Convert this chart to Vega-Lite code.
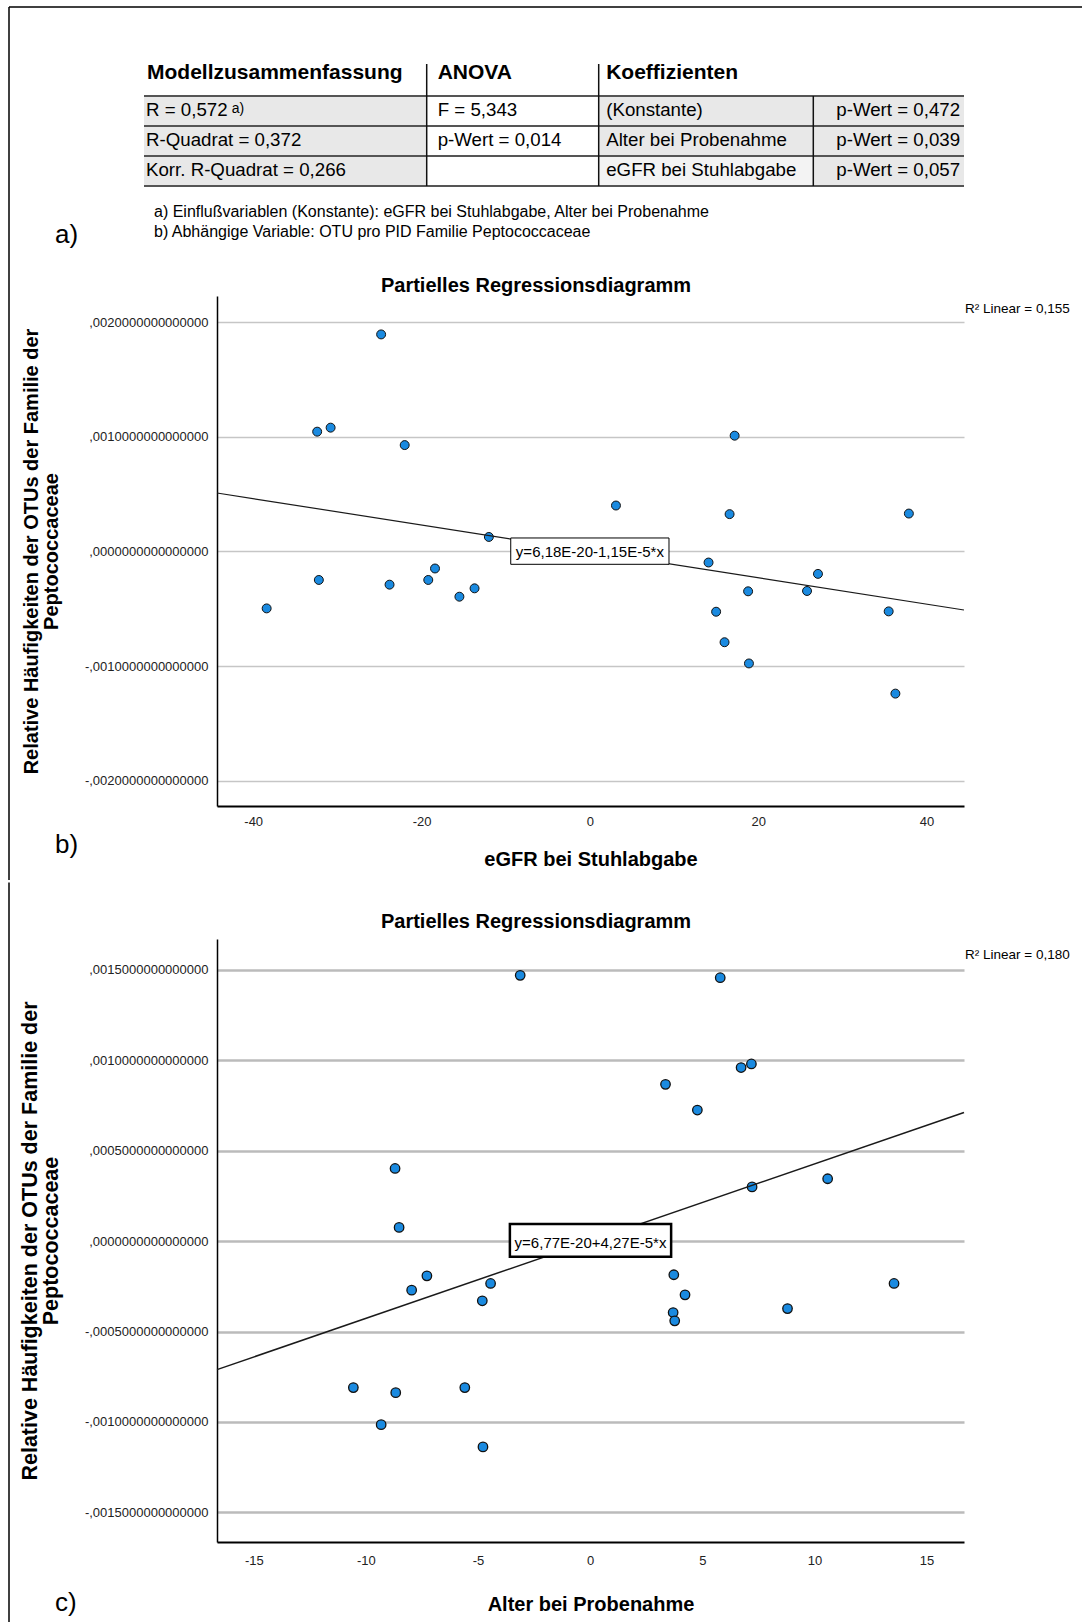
{
  "$schema": "https://vega.github.io/schema/vega-lite/v6.json",
  "background": "white",
  "padding": {"left": 8, "top": 6, "right": 0, "bottom": 0},
  "spacing": 0,
  "config": {
    "font": "Liberation Sans",
    "view": {"stroke": null},
    "axis": {"labelFont": "Liberation Sans", "titleFont": "Liberation Sans"},
    "title": {"font": "Liberation Sans"},
    "text": {"font": "Liberation Sans"}
  },
  "datasets": {
    "punkteB": [
      {"egfr": -24.8, "wert": 0.001892},
      {"egfr": -32.4, "wert": 0.001044},
      {"egfr": -30.8, "wert": 0.001079},
      {"egfr": -22.0, "wert": 0.000927},
      {"egfr": 17.2, "wert": 0.001009},
      {"egfr": 3.1, "wert": 0.0004},
      {"egfr": 16.6, "wert": 0.000325},
      {"egfr": 37.9, "wert": 0.00033},
      {"egfr": -12.0, "wert": 0.000126},
      {"egfr": -38.4, "wert": -0.000497},
      {"egfr": -32.2, "wert": -0.000249},
      {"egfr": -23.8, "wert": -0.00029},
      {"egfr": -19.2, "wert": -0.000249},
      {"egfr": -18.4, "wert": -0.000149},
      {"egfr": -15.5, "wert": -0.000395},
      {"egfr": -13.7, "wert": -0.000322},
      {"egfr": 14.1, "wert": -0.000097},
      {"egfr": 15.0, "wert": -0.000526},
      {"egfr": 16.0, "wert": -0.000792},
      {"egfr": 18.8, "wert": -0.000348},
      {"egfr": 18.9, "wert": -0.000977},
      {"egfr": 25.8, "wert": -0.000345},
      {"egfr": 27.1, "wert": -0.000196},
      {"egfr": 35.5, "wert": -0.000523},
      {"egfr": 36.3, "wert": -0.00124}
    ],
    "linieB": [
      {"egfr": -44.3, "wert": 0.00050945},
      {"egfr": 44.45, "wert": -0.00051118}
    ],
    "textB": [
      {"titel": "Partielles Regressionsdiagramm", "gleichung": "y=6,18E-20-1,15E-5*x", "r2": "R² Linear = 0,155", "marke": "b)"}
    ],
    "punkteC": [
      {"alter": -3.12, "wert": 0.00147},
      {"alter": 5.8, "wert": 0.001457},
      {"alter": 6.73, "wert": 0.00096},
      {"alter": 7.19, "wert": 0.00098},
      {"alter": 3.36, "wert": 0.000867},
      {"alter": 4.78, "wert": 0.000725},
      {"alter": -8.7, "wert": 0.000402},
      {"alter": 7.22, "wert": 0.0003},
      {"alter": 10.59, "wert": 0.000345},
      {"alter": -8.52, "wert": 0.000076},
      {"alter": -7.28, "wert": -0.000192},
      {"alter": -7.96, "wert": -0.000271},
      {"alter": -4.44, "wert": -0.000234},
      {"alter": -4.81, "wert": -0.00033},
      {"alter": 3.73, "wert": -0.000186},
      {"alter": 4.23, "wert": -0.000297},
      {"alter": 3.7, "wert": -0.000395},
      {"alter": 3.77, "wert": -0.000441},
      {"alter": 8.8, "wert": -0.000373},
      {"alter": 13.55, "wert": -0.000234},
      {"alter": -10.56, "wert": -0.00081},
      {"alter": -8.67, "wert": -0.000838},
      {"alter": -5.59, "wert": -0.00081},
      {"alter": -9.32, "wert": -0.001015},
      {"alter": -4.78, "wert": -0.001138}
    ],
    "linieC": [
      {"alter": -16.64, "wert": -0.00071053},
      {"alter": 16.67, "wert": 0.00071181}
    ],
    "textC": [
      {"titel": "Partielles Regressionsdiagramm", "gleichung": "y=6,77E-20+4,27E-5*x", "r2": "R² Linear = 0,180", "marke": "c)"}
    ],
    "zellen": [
      {"row": 1, "row2": 2, "col": 0, "col2": 1, "ton": "grau"},
      {"row": 1, "row2": 2, "col": 2, "col2": 3, "ton": "grau"},
      {"row": 1, "row2": 2, "col": 3, "col2": 4, "ton": "grau"},
      {"row": 2, "row2": 3, "col": 0, "col2": 1, "ton": "grau"},
      {"row": 2, "row2": 3, "col": 2, "col2": 3, "ton": "grau"},
      {"row": 2, "row2": 3, "col": 3, "col2": 4, "ton": "grau"},
      {"row": 3, "row2": 4, "col": 0, "col2": 1, "ton": "grau"},
      {"row": 3, "row2": 4, "col": 2, "col2": 3, "ton": "hell"},
      {"row": 3, "row2": 4, "col": 3, "col2": 4, "ton": "grau"}
    ],
    "linien": [
      {"art": "rahmen", "col": -2, "col2": -2, "row": -1, "row2": 8},
      {"art": "rahmen", "col": -2, "col2": 5, "row": -1, "row2": -1},
      {"art": "quer", "col": 0, "col2": 4, "row": 1, "row2": 1},
      {"art": "quer", "col": 0, "col2": 4, "row": 2, "row2": 2},
      {"art": "quer", "col": 0, "col2": 4, "row": 3, "row2": 3},
      {"art": "quer", "col": 0, "col2": 4, "row": 4, "row2": 4},
      {"art": "senkrecht", "col": 1, "col2": 1, "row": 0, "row2": 4},
      {"art": "senkrecht", "col": 2, "col2": 2, "row": 0, "row2": 4},
      {"art": "senkrecht", "col": 3, "col2": 3, "row": 1, "row2": 4}
    ],
    "tabelle": [
      {"art": "kopf", "row": 0, "col": 0, "text": "Modellzusammenfassung"},
      {"art": "kopf", "row": 0, "col": 1, "text": "ANOVA"},
      {"art": "kopf", "row": 0, "col": 2, "text": "Koeffizienten"},
      {"art": "zelle", "row": 1, "col": 0, "text": "R = 0,572"},
      {"art": "hoch", "row": 1, "col": 0, "text": "a)"},
      {"art": "zelle", "row": 1, "col": 1, "text": "F = 5,343"},
      {"art": "zelle", "row": 1, "col": 2, "text": "(Konstante)"},
      {"art": "zelle", "row": 1, "col": 3, "text": "p-Wert = 0,472"},
      {"art": "zelle", "row": 2, "col": 0, "text": "R-Quadrat = 0,372"},
      {"art": "zelle", "row": 2, "col": 1, "text": "p-Wert = 0,014"},
      {"art": "zelle", "row": 2, "col": 2, "text": "Alter bei Probenahme"},
      {"art": "zelle", "row": 2, "col": 3, "text": "p-Wert = 0,039"},
      {"art": "zelle", "row": 3, "col": 0, "text": "Korr. R-Quadrat = 0,266"},
      {"art": "zelle", "row": 3, "col": 2, "text": "eGFR bei Stuhlabgabe"},
      {"art": "zelle", "row": 3, "col": 3, "text": "p-Wert = 0,057"},
      {"art": "fuss", "row": 5, "col": 0, "text": "a) Einflußvariablen (Konstante): eGFR bei Stuhlabgabe, Alter bei Probenahme"},
      {"art": "fuss", "row": 6, "col": 0, "text": "b) Abhängige Variable: OTU pro PID Familie Peptococcaceae"},
      {"art": "marke", "row": 6, "col": -1, "text": "a)"}
    ]
  },
  "vconcat": [
    {
      "width": 747,
      "height": 510,
      "resolve": {"scale": {"x": "independent", "y": "independent"}},
      "layer": [
        {
          "layer": [
            {
              "data": {"name": "punkteB"},
              "mark": {"type": "circle", "size": 80, "fill": "#1a8ae0", "stroke": "#111111", "strokeWidth": 1, "opacity": 1},
              "encoding": {
                "x": {"field": "egfr", "type": "quantitative", "title": "eGFR bei Stuhlabgabe",
                  "scale": {"domain": [-44.3, 44.45], "nice": false, "zero": false},
                  "axis": {"values": [-40, -20, 0, 20, 40], "labelExpr": "(datum.value < 0 ? '-' : '') + abs(datum.value)", "grid": false, "ticks": false, "tickSize": 0, "domainColor": "#000000", "domainWidth": 2, "labelFontSize": 13, "labelColor": "#222222", "labelPadding": 9.5, "labelFlush": false, "titleFontSize": 20, "titleFontWeight": "bold", "titleColor": "#000000", "titlePadding": 21}},
                "y": {"field": "wert", "type": "quantitative", "title": ["Relative Häufigkeiten der OTUs der Familie der", "Peptococcaceae"],
                  "scale": {"domain": [-0.00222, 0.002227], "nice": false, "zero": false},
                  "axis": {"values": [-0.002, -0.001, 0, 0.001, 0.002], "labelExpr": "(datum.value < 0 ? '-' : '') + replace(format(abs(datum.value), '.16f'), '0.', ',')", "grid": true, "gridColor": "#c6c6c6", "gridWidth": 1.5, "ticks": false, "tickSize": 0, "domainColor": "#000000", "domainWidth": 1.5, "labelFontSize": 13, "labelColor": "#222222", "labelPadding": 9, "labelFlush": false, "titleFontSize": 20, "titleFontWeight": "bold", "titleColor": "#000000", "titleLineHeight": 20, "titlePadding": 23}}
              }
            },
            {
              "data": {"name": "linieB"},
              "mark": {"type": "line", "color": "#1a1a1a", "strokeWidth": 1.2},
              "encoding": {
                "x": {"field": "egfr", "type": "quantitative", "scale": {"domain": [-44.3, 44.45], "nice": false, "zero": false}},
                "y": {"field": "wert", "type": "quantitative", "scale": {"domain": [-0.00222, 0.002227], "nice": false, "zero": false}}
              }
            },
            {
              "data": {"name": "textB"},
              "mark": {"type": "rect", "fill": "#ffffff", "stroke": "#000000", "strokeWidth": 1},
              "encoding": {
                "x": {"datum": -9.4, "type": "quantitative", "scale": {"domain": [-44.3, 44.45], "nice": false, "zero": false}},
                "x2": {"datum": 9.4},
                "y": {"datum": 0.000117, "type": "quantitative", "scale": {"domain": [-0.00222, 0.002227], "nice": false, "zero": false}},
                "y2": {"datum": -0.0001125}
              }
            },
            {
              "data": {"name": "textB"},
              "mark": {"type": "text", "fontSize": 15, "align": "center", "baseline": "alphabetic", "color": "#000000"},
              "encoding": {
                "x": {"datum": 0, "type": "quantitative", "scale": {"domain": [-44.3, 44.45], "nice": false, "zero": false}},
                "y": {"datum": -0.0000462, "type": "quantitative", "scale": {"domain": [-0.00222, 0.002227], "nice": false, "zero": false}},
                "text": {"field": "gleichung"}
              }
            },
            {
              "data": {"name": "textB"},
              "mark": {"type": "text", "fontSize": 13.5, "align": "left", "baseline": "alphabetic", "dx": 1, "color": "#000000"},
              "encoding": {
                "x": {"datum": 44.45, "type": "quantitative", "scale": {"domain": [-44.3, 44.45], "nice": false, "zero": false}},
                "y": {"datum": 0.002079, "type": "quantitative", "scale": {"domain": [-0.00222, 0.002227], "nice": false, "zero": false}},
                "text": {"field": "r2"}
              }
            },
            {
              "data": {"name": "textB"},
              "mark": {"type": "text", "fontSize": 20, "fontWeight": "bold", "align": "center", "baseline": "alphabetic", "color": "#000000"},
              "encoding": {
                "x": {"datum": -6.4, "type": "quantitative", "scale": {"domain": [-44.3, 44.45], "nice": false, "zero": false}},
                "y": {"datum": 0.002262, "type": "quantitative", "scale": {"domain": [-0.00222, 0.002227], "nice": false, "zero": false}},
                "text": {"field": "titel"}
              }
            },
            {
              "data": {"name": "textB"},
              "mark": {"type": "text", "fontSize": 26, "align": "left", "baseline": "alphabetic", "color": "#000000"},
              "encoding": {
                "x": {"datum": -63.55, "type": "quantitative", "scale": {"domain": [-44.3, 44.45], "nice": false, "zero": false}},
                "y": {"datum": -0.002634, "type": "quantitative", "scale": {"domain": [-0.00222, 0.002227], "nice": false, "zero": false}},
                "text": {"field": "marke"}
              }
            }
          ]
        },
        {
          "encoding": {
            "x": {"field": "col", "type": "quantitative", "scale": {"domain": [-2, -1, 0, 1, 2, 3, 4, 5], "range": [-208, -162, -73, 209.7, 381.7, 596.3, 747, 865], "nice": false, "zero": false}, "axis": null},
            "y": {"field": "row", "type": "quantitative", "scale": {"domain": [-1, 0, 1, 2, 3, 4, 5, 6, 7, 8], "range": [-289, -232, -200, -170, -140, -110, -94, -73.7, -50, 584], "nice": false, "zero": false}, "axis": null}
          },
          "layer": [
            {
              "data": {"name": "zellen"},
              "mark": {"type": "rect", "strokeWidth": 0},
              "encoding": {
                "x2": {"field": "col2"},
                "y2": {"field": "row2"},
                "color": {"field": "ton", "type": "nominal", "scale": {"domain": ["grau", "hell"], "range": ["#e8e8e8", "#f3f3f3"]}, "legend": null}
              }
            },
            {
              "data": {"name": "linien"},
              "transform": [{"filter": "datum.art == 'quer'"}],
              "mark": {"type": "rule", "color": "#555555", "strokeWidth": 2},
              "encoding": {"x2": {"field": "col2"}, "y2": {"field": "row2"}}
            },
            {
              "data": {"name": "linien"},
              "transform": [{"filter": "datum.art == 'senkrecht'"}],
              "mark": {"type": "rule", "color": "#111111", "strokeWidth": 1.5},
              "encoding": {"x2": {"field": "col2"}, "y2": {"field": "row2"}}
            },
            {
              "data": {"name": "linien"},
              "transform": [{"filter": "datum.art == 'rahmen'"}],
              "mark": {"type": "rule", "color": "#000000", "strokeWidth": 1.5},
              "encoding": {"x2": {"field": "col2"}, "y2": {"field": "row2"}}
            },
            {
              "data": {"name": "tabelle"},
              "transform": [{"filter": "datum.art == 'kopf' && datum.col == 0"}],
              "mark": {"type": "text", "fontSize": 21, "fontWeight": "bold", "align": "left", "baseline": "alphabetic", "dx": 3, "dy": 15, "color": "#000000"},
              "encoding": {"text": {"field": "text"}}
            },
            {
              "data": {"name": "tabelle"},
              "transform": [{"filter": "datum.art == 'kopf' && datum.col == 1"}],
              "mark": {"type": "text", "fontSize": 21, "fontWeight": "bold", "align": "left", "baseline": "alphabetic", "dx": 11, "dy": 15, "color": "#000000"},
              "encoding": {"text": {"field": "text"}}
            },
            {
              "data": {"name": "tabelle"},
              "transform": [{"filter": "datum.art == 'kopf' && datum.col == 2"}],
              "mark": {"type": "text", "fontSize": 21, "fontWeight": "bold", "align": "left", "baseline": "alphabetic", "dx": 7.5, "dy": 15, "color": "#000000"},
              "encoding": {"text": {"field": "text"}}
            },
            {
              "data": {"name": "tabelle"},
              "transform": [{"filter": "datum.art == 'zelle' && datum.col == 0"}],
              "mark": {"type": "text", "fontSize": 18.7, "align": "left", "baseline": "alphabetic", "dx": 2, "dy": 20, "color": "#000000"},
              "encoding": {"text": {"field": "text"}}
            },
            {
              "data": {"name": "tabelle"},
              "transform": [{"filter": "datum.art == 'zelle' && datum.col == 1"}],
              "mark": {"type": "text", "fontSize": 18.7, "align": "left", "baseline": "alphabetic", "dx": 11, "dy": 20, "color": "#000000"},
              "encoding": {"text": {"field": "text"}}
            },
            {
              "data": {"name": "tabelle"},
              "transform": [{"filter": "datum.art == 'zelle' && datum.col == 2"}],
              "mark": {"type": "text", "fontSize": 18.7, "align": "left", "baseline": "alphabetic", "dx": 7.5, "dy": 20, "color": "#000000"},
              "encoding": {"text": {"field": "text"}}
            },
            {
              "data": {"name": "tabelle"},
              "transform": [{"filter": "datum.art == 'zelle' && datum.col == 3"}],
              "mark": {"type": "text", "fontSize": 18.7, "align": "left", "baseline": "alphabetic", "dx": 23, "dy": 20, "color": "#000000"},
              "encoding": {"text": {"field": "text"}}
            },
            {
              "data": {"name": "tabelle"},
              "transform": [{"filter": "datum.art == 'hoch'"}],
              "mark": {"type": "text", "fontSize": 14, "align": "left", "baseline": "alphabetic", "dx": 87.7, "dy": 17, "color": "#000000"},
              "encoding": {"text": {"field": "text"}}
            },
            {
              "data": {"name": "tabelle"},
              "transform": [{"filter": "datum.art == 'fuss'"}],
              "mark": {"type": "text", "fontSize": 16, "align": "left", "baseline": "alphabetic", "dx": 10, "dy": 15, "color": "#000000"},
              "encoding": {"text": {"field": "text"}}
            },
            {
              "data": {"name": "tabelle"},
              "transform": [{"filter": "datum.art == 'marke'"}],
              "mark": {"type": "text", "fontSize": 26, "align": "left", "baseline": "alphabetic", "dx": 0, "dy": 20.7, "color": "#000000"},
              "encoding": {"text": {"field": "text"}}
            }
          ]
        }
      ]
    },
    {
      "width": 747,
      "height": 603,
      "layer": [
        {
          "data": {"name": "punkteC"},
          "mark": {"type": "circle", "size": 90, "fill": "#1a8ae0", "stroke": "#111111", "strokeWidth": 1.3, "opacity": 1},
          "encoding": {
            "x": {"field": "alter", "type": "quantitative", "title": "Alter bei Probenahme",
              "scale": {"domain": [-16.64, 16.67], "nice": false, "zero": false},
              "axis": {"values": [-15, -10, -5, 0, 5, 10, 15], "labelExpr": "(datum.value < 0 ? '-' : '') + abs(datum.value)", "grid": false, "ticks": false, "tickSize": 0, "domainColor": "#000000", "domainWidth": 2, "labelFontSize": 13, "labelColor": "#222222", "labelPadding": 12.5, "labelFlush": false, "titleFontSize": 20, "titleFontWeight": "bold", "titleColor": "#000000", "titlePadding": 27}},
            "y": {"field": "wert", "type": "quantitative", "title": ["Relative Häufigkeiten der OTUs der Familie der", "Peptococcaceae"],
              "scale": {"domain": [-0.001664, 0.001671], "nice": false, "zero": false},
              "axis": {"values": [-0.0015, -0.001, -0.0005, 0, 0.0005, 0.001, 0.0015], "labelExpr": "(datum.value < 0 ? '-' : '') + replace(format(abs(datum.value), '.16f'), '0.', ',')", "grid": true, "gridColor": "#bbbbbb", "gridWidth": 2.5, "ticks": false, "tickSize": 0, "domainColor": "#000000", "domainWidth": 1.5, "labelFontSize": 13, "labelColor": "#222222", "labelPadding": 9, "labelFlush": false, "titleFontSize": 21.5, "titleFontWeight": "bold", "titleColor": "#000000", "titleLineHeight": 21, "titlePadding": 22}}
          }
        },
        {
          "data": {"name": "linieC"},
          "mark": {"type": "line", "color": "#1a1a1a", "strokeWidth": 1.5},
          "encoding": {
            "x": {"field": "alter", "type": "quantitative", "scale": {"domain": [-16.64, 16.67], "nice": false, "zero": false}},
            "y": {"field": "wert", "type": "quantitative", "scale": {"domain": [-0.001664, 0.001671], "nice": false, "zero": false}}
          }
        },
        {
          "data": {"name": "textC"},
          "mark": {"type": "rect", "fill": "#ffffff", "stroke": "#000000", "strokeWidth": 2.5},
          "encoding": {
            "x": {"datum": -3.58, "type": "quantitative", "scale": {"domain": [-16.64, 16.67], "nice": false, "zero": false}},
            "x2": {"datum": 3.61},
            "y": {"datum": 0.0000948, "type": "quantitative", "scale": {"domain": [-0.001664, 0.001671], "nice": false, "zero": false}},
            "y2": {"datum": -0.0000861}
          }
        },
        {
          "data": {"name": "textC"},
          "mark": {"type": "text", "fontSize": 15, "align": "center", "baseline": "alphabetic", "color": "#000000"},
          "encoding": {
            "x": {"datum": 0.015, "type": "quantitative", "scale": {"domain": [-16.64, 16.67], "nice": false, "zero": false}},
            "y": {"datum": -0.0000363, "type": "quantitative", "scale": {"domain": [-0.001664, 0.001671], "nice": false, "zero": false}},
            "text": {"field": "gleichung"}
          }
        },
        {
          "data": {"name": "textC"},
          "mark": {"type": "text", "fontSize": 13.5, "align": "left", "baseline": "alphabetic", "dx": 1, "color": "#000000"},
          "encoding": {
            "x": {"datum": 16.67, "type": "quantitative", "scale": {"domain": [-16.64, 16.67], "nice": false, "zero": false}},
            "y": {"datum": 0.0015604, "type": "quantitative", "scale": {"domain": [-0.001664, 0.001671], "nice": false, "zero": false}},
            "text": {"field": "r2"}
          }
        },
        {
          "data": {"name": "textC"},
          "mark": {"type": "text", "fontSize": 20, "fontWeight": "bold", "align": "center", "baseline": "alphabetic", "color": "#000000"},
          "encoding": {
            "x": {"datum": -2.415, "type": "quantitative", "scale": {"domain": [-16.64, 16.67], "nice": false, "zero": false}},
            "y": {"datum": 0.0017318, "type": "quantitative", "scale": {"domain": [-0.001664, 0.001671], "nice": false, "zero": false}},
            "text": {"field": "titel"}
          }
        },
        {
          "data": {"name": "textC"},
          "mark": {"type": "text", "fontSize": 26, "align": "left", "baseline": "alphabetic", "color": "#000000"},
          "encoding": {
            "x": {"datum": -23.864, "type": "quantitative", "scale": {"domain": [-16.64, 16.67], "nice": false, "zero": false}},
            "y": {"datum": -0.0020434, "type": "quantitative", "scale": {"domain": [-0.001664, 0.001671], "nice": false, "zero": false}},
            "text": {"field": "marke"}
          }
        },
        {
          "data": {"name": "textC"},
          "mark": {"type": "rule", "color": "#000000", "strokeWidth": 1.5},
          "encoding": {
            "x": {"datum": -25.915, "type": "quantitative", "scale": {"domain": [-16.64, 16.67], "nice": false, "zero": false}},
            "y": {"datum": 0.0019835, "type": "quantitative", "scale": {"domain": [-0.001664, 0.001671], "nice": false, "zero": false}},
            "y2": {"datum": -0.0021065}
          }
        }
      ]
    }
  ]
}
